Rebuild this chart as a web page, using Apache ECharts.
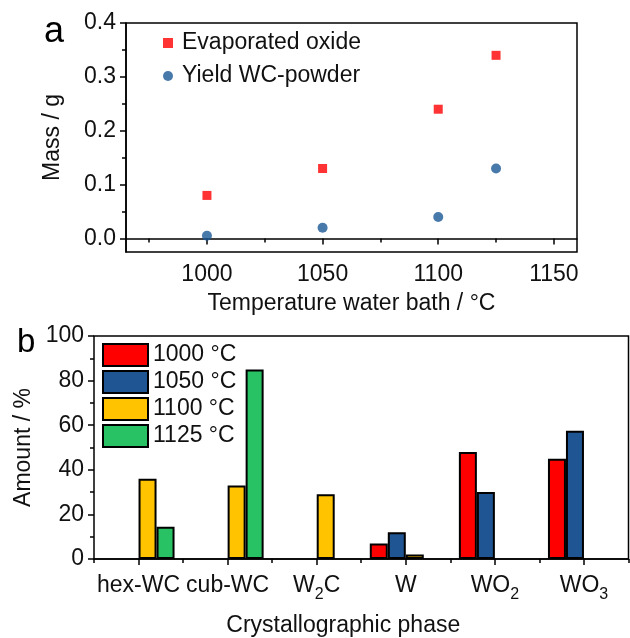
<!DOCTYPE html>
<html>
<head>
<meta charset="utf-8">
<script src="https://cdn.jsdelivr.net/npm/echarts@6/dist/echarts.min.js"></script>
<style>
  html, body { margin: 0; padding: 0; background: #fff; }
  #chart { width: 630px; height: 638px; }
</style>
</head>
<body>
<div id="chart"></div>
<script>
// panel a data
var temps = [1000, 1050, 1100, 1125];
var oxideMass = [0.08, 0.13, 0.24, 0.34];
var yieldMass = [0.005, 0.02, 0.04, 0.13];
var massTicks = [0, 0.1, 0.2, 0.3, 0.4];
var massMinorTicks = [0.05, 0.15, 0.25, 0.35];
var tempTicks = [1000, 1050, 1100, 1150];
var tempMinorTicks = [975, 1025, 1075, 1125];

// panel b data
var phases = ['hex-WC', 'cub-WC', 'W2C', 'W', 'WO2', 'WO3'];
var amount1000 = [0, 0, 0, 7, 48, 45];
var amount1050 = [0, 0, 0, 12, 30, 57.5];
var amount1100 = [36, 33, 29, 2, 0, 0];
var amount1125 = [14.5, 85, 0, 0, 0, 0];
var seriesNames = ['1000 °C', '1050 °C', '1100 °C', '1125 °C'];
var barColors = ['#ff0000', '#1f5592', '#ffc300', '#28c264'];

var font = 'Arial, "Liberation Sans", sans-serif';
var fs = 23;
var chart = echarts.init(document.getElementById('chart'));

function pairs(xs, ys) {
    var out = [];
    for (var i = 0; i < xs.length; i++) {
        out.push([xs[i], ys[i]]);
    }
    return out;
}

// 0 means no bar drawn
function bars(vals) {
    return vals.map(function (v) { return v === 0 ? '-' : v; });
}

// W2C -> W{sub 2}C
function phaseLabel(v) {
    return v.replace(/([A-Za-z\-]+)|(\d)/g, function (m, word, digit) {
        return word ? '{n|' + word + '}' : '{s|' + digit + '}';
    });
}

var axisStyle = { lineStyle: { color: '#000', width: 1.5 } };
var tickLine = { color: '#000', width: 1.5 };

var amounts = [amount1000, amount1050, amount1100, amount1125];
var barSeries = [];
for (var k = 0; k < amounts.length; k++) {
    barSeries.push({
        name: seriesNames[k],
        type: 'bar',
        xAxisIndex: 2,
        yAxisIndex: 2,
        barWidth: 18,
        barGap: '0%',
        data: bars(amounts[k]),
        itemStyle: { color: barColors[k], borderColor: '#000', borderWidth: 2 }
    });
}

var option = {
    animation: false,
    backgroundColor: '#fff',
    textStyle: { fontFamily: font },
    title: [
        { text: 'a', left: 44, top: 14, padding: 0, textStyle: { fontSize: 36, fontWeight: 'normal', color: '#000', fontFamily: font } },
        { text: 'b', left: 17, top: 326, padding: 0, textStyle: { fontSize: 33, fontWeight: 'normal', color: '#000', fontFamily: font } }
    ],
    legend: [
        {
            data: [
                { name: 'Evaporated oxide', icon: 'rect' },
                { name: 'Yield WC-powder', icon: 'circle' }
            ],
            orient: 'vertical',
            left: 163,
            top: 31,
            padding: 0,
            itemWidth: 10,
            itemHeight: 10,
            itemGap: 9,
            textStyle: { fontSize: fs, lineHeight: 24, color: '#111', fontFamily: font, padding: [0, 0, 0, 4] }
        },
        {
            data: seriesNames,
            orient: 'vertical',
            left: 102,
            top: 343,
            padding: 0,
            icon: 'rect',
            itemWidth: 45,
            itemHeight: 22,
            itemGap: 3,
            itemStyle: { borderColor: '#000', borderWidth: 2 },
            textStyle: { fontSize: fs, lineHeight: 22, color: '#111', fontFamily: font }
        }
    ],
    grid: [
        { left: 126, top: 23, right: 53, bottom: 386, show: true, borderColor: '#000', borderWidth: 1.5 },
        { left: 94, top: 336, right: 1.5, bottom: 74, show: true, borderColor: '#000', borderWidth: 1.5 }
    ],
    xAxis: [
        {
            type: 'value', gridIndex: 0, min: 965, max: 1160, position: 'bottom',
            axisLine: axisStyle,
            axisTick: { show: true, customValues: tempTicks, length: 6, lineStyle: tickLine },
            axisLabel: {
                customValues: tempTicks, fontSize: fs, color: '#111', margin: 11, fontFamily: font,
                formatter: function (v) { return String(v); }
            },
            splitLine: { show: false },
            name: 'Temperature water bath / °C', nameLocation: 'middle', nameGap: 40,
            nameTextStyle: { fontSize: fs, color: '#111', fontFamily: font }
        },
        {
            type: 'value', gridIndex: 0, min: 965, max: 1160, position: 'bottom', offset: 0,
            axisLine: { show: false },
            axisTick: { show: true, customValues: tempMinorTicks, length: 4, lineStyle: tickLine },
            axisLabel: { show: false },
            splitLine: { show: false }
        },
        {
            type: 'category', gridIndex: 1, data: phases, position: 'bottom',
            axisLine: axisStyle,
            axisTick: { show: true, alignWithLabel: true, length: 6, lineStyle: tickLine },
            axisLabel: {
                interval: 0, margin: 9, color: '#111', fontFamily: font,
                formatter: phaseLabel,
                rich: {
                    n: { fontSize: fs, lineHeight: 35, color: '#111', fontFamily: font },
                    s: { fontSize: 16, lineHeight: 16, padding: [19, 0, 0, 0], color: '#111', fontFamily: font }
                }
            },
            splitLine: { show: false },
            name: 'Crystallographic phase', nameLocation: 'middle', nameGap: 55,
            nameTextStyle: { fontSize: fs, color: '#111', fontFamily: font, padding: [0, 36, 0, 0] }
        },
        {
            type: 'category', gridIndex: 1, data: phases, position: 'bottom', offset: 0,
            axisLine: { show: false },
            axisTick: { show: true, alignWithLabel: false, length: 4, lineStyle: tickLine },
            axisLabel: { show: false },
            splitLine: { show: false }
        }
    ],
    yAxis: [
        {
            type: 'value', gridIndex: 0, min: -0.025, max: 0.4, position: 'left',
            axisLine: axisStyle,
            axisTick: { show: true, customValues: massTicks, length: 6, lineStyle: tickLine },
            axisLabel: {
                customValues: massTicks, fontSize: fs, color: '#111', margin: 10, fontFamily: font,
                formatter: function (v) { return v.toFixed(1); }
            },
            splitLine: { show: false },
            name: 'Mass / g', nameLocation: 'middle', nameGap: 62,
            nameTextStyle: { fontSize: fs, color: '#111', fontFamily: font }
        },
        {
            type: 'value', gridIndex: 0, min: -0.025, max: 0.4, position: 'left', offset: 0,
            axisLine: { show: false },
            axisTick: { show: true, customValues: massMinorTicks, length: 4, lineStyle: tickLine },
            axisLabel: { show: false },
            splitLine: { show: false }
        },
        {
            type: 'value', gridIndex: 1, min: 0, max: 100, interval: 20, position: 'left',
            axisLine: axisStyle,
            axisTick: { show: true, length: 6, lineStyle: tickLine },
            minorTick: { show: true, splitNumber: 2, length: 4, lineStyle: tickLine },
            axisLabel: { fontSize: fs, color: '#111', margin: 10, fontFamily: font },
            splitLine: { show: false },
            name: 'Amount / %', nameLocation: 'middle', nameGap: 48,
            nameTextStyle: { fontSize: fs, color: '#111', fontFamily: font }
        }
    ],
    series: [
        {
            name: 'Evaporated oxide', type: 'scatter', xAxisIndex: 0, yAxisIndex: 0,
            symbol: 'rect', symbolSize: 9,
            itemStyle: { color: '#ff0000' },
            data: pairs(temps, oxideMass)
        },
        {
            name: 'Yield WC-powder', type: 'scatter', xAxisIndex: 0, yAxisIndex: 0,
            symbol: 'circle', symbolSize: 10,
            itemStyle: { color: '#1a5896' },
            data: pairs(temps, yieldMass)
        }
    ].concat(barSeries)
};

chart.setOption(option);
</script>
</body>
</html>
